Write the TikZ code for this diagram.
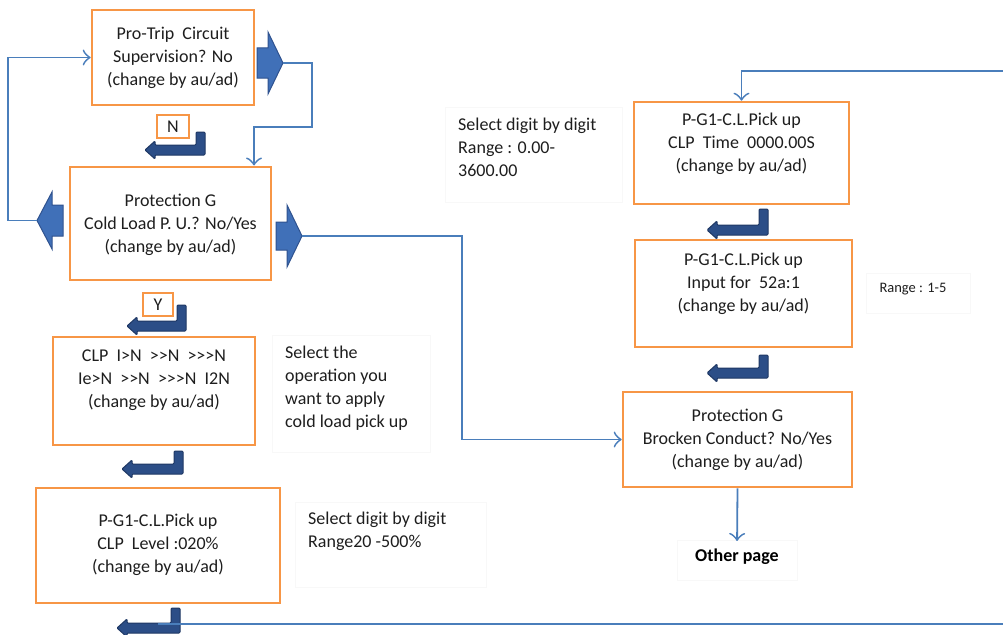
\documentclass[tikz,border=0pt]{standalone}
\usepackage{fontspec}
\setmainfont{Carlito}
\usetikzlibrary{arrows.meta}
\definecolor{boxorange}{RGB}{247,150,70}
\definecolor{linkblue}{RGB}{74,126,187}
\definecolor{blockfill}{RGB}{64,112,184}
\definecolor{blockedge}{RGB}{47,82,143}
\definecolor{bentfill}{RGB}{44,78,135}
\definecolor{bentedge}{RGB}{31,56,100}
\definecolor{txtcol}{RGB}{30,30,30}
\definecolor{faintcol}{RGB}{248,248,248}
\newcommand\GG{>\kern0pt>}
\newcommand\GGG{>\kern0pt>\kern0pt>}
\tikzset{
 box/.style={draw=boxorange, line width=2.6pt, fill=white, inner sep=0pt},
 boxtext/.style={text=txtcol, font=\fontsize{18}{23}\selectfont, align=center, inner sep=0pt},
 sidetext/.style={text=txtcol, font=\fontsize{18}{23}\selectfont, align=left, inner sep=0pt, anchor=west},
 faintbox/.style={draw=faintcol, line width=0.7pt},
 link/.style={draw=linkblue, line width=1.8pt},
 linkarrow/.style={link, -{Classical TikZ Rightarrow[length=8pt,width=16pt]}},
 blockarrow/.style={fill=blockfill, draw=blockedge, line width=1pt, line join=miter},
 bentarrow/.style={fill=bentfill, draw=bentedge, line width=1pt, rounded corners=1pt},
}
\newcommand\BentArrow[4]{% stem right x, stem top y, shaft bottom y, tip x
  \filldraw[bentarrow] (#1,#2) -- (#1,#3) -- ({#4+10},#3) -- ({#4+10},{#3+4}) -- (#4,{#3-5}) -- ({#4+10},{#3-14}) -- ({#4+10},{#3-10}) -- ({#1-9},{#3-10}) -- ({#1-9},#2) -- cycle;}
\begin{document}
\begin{tikzpicture}[x=1pt,y=-1pt]
\useasboundingbox (0,0) rectangle (1003,634);
\fill[white] (0,0) rectangle (1003,634);

% faint frames of side notes
\draw[faintbox] (272,335) rectangle (430,452);
\draw[faintbox] (295,502) rectangle (486,587);
\draw[faintbox] (445,107) rectangle (622,202);
\draw[faintbox] (866,273) rectangle (970,313);
\draw[faintbox] (677,540) rectangle (797,580);

% boxes
\node[box, minimum width=162pt, minimum height=95pt] (b1) at (173,57.5) {};
\node[box, minimum width=201pt, minimum height=113pt] (b2) at (170.5,223.5) {};
\node[box, minimum width=202pt, minimum height=108pt] (b3) at (154,391) {};
\node[box, minimum width=244pt, minimum height=115pt] (b4) at (158,545.5) {};
\node[box, minimum width=215pt, minimum height=102pt] (b5) at (741.5,153) {};
\node[box, minimum width=217pt, minimum height=107pt] (b6) at (743.5,293.5) {};
\node[box, minimum width=229pt, minimum height=95pt] (b7) at (737.5,439.5) {};

\node[box, boxtext, minimum width=32pt, minimum height=23pt] (nbox) at (173,126.5) {N};
\node[box, boxtext, minimum width=30pt, minimum height=23pt] (ybox) at (158,304.5) {Y};

% box texts
\node[boxtext] (t1) at (173,58) {Pro-Trip~~Circuit\\Supervision? No\\(change by au/ad)};
\node[boxtext] (t2) at (170.5,225) {Protection G\\Cold Load P. U.? No/Yes\\(change by au/ad)};
\node[boxtext] (t3) at (154,380.5) {CLP~~I>N~~\GG N~~\GGG N\\Ie>N~~\GG N~~\GGG N~~I2N\hspace*{24pt}\\(change by au/ad)};
\node[boxtext] (t4) at (158,545) {P-G1-C.L.Pick up\\CLP~~Level :020\%\\(change by au/ad)};
\node[boxtext] (t5) at (741.5,143.5) {P-G1-C.L.Pick up\\CLP~~Time~~0000.00S\\(change by au/ad)};
\node[boxtext] (t6) at (743.5,284) {P-G1-C.L.Pick up\\Input for~~52a:1\\(change by au/ad)};
\node[boxtext] (t7) at (737.5,440) {Protection G\\Brocken Conduct? No/Yes\hspace*{14pt}\\(change by au/ad)};

% side notes
\node[sidetext] (s1) at (285,388) {Select the\\operation you\\want to apply\\cold load pick up};
\node[sidetext] (s2) at (308,531.5) {Select digit by digit\\Range20 -500\%};
\node[sidetext] (s3) at (458,147.5) {Select digit by digit\\Range : 0.00-\\3600.00};
\node[boxtext, font=\fontsize{14.5}{17}\selectfont] (s4) at (913,289) {Range : 1-5};
\node[boxtext, font=\fontsize{18}{23}\selectfont\bfseries, text=black] (op) at (737,557) {Other page};

% block arrows
\filldraw[blockarrow] (257,48) -- (268,48) -- (268,32) -- (283,63) -- (268,94) -- (268,78) -- (257,78) -- cycle;
\filldraw[blockarrow] (63,205) -- (52,205) -- (52,192) -- (37,220.5) -- (52,249) -- (52,236) -- (63,236) -- cycle;
\filldraw[blockarrow] (276,222) -- (287,222) -- (287,205) -- (302,236) -- (287,267) -- (287,250) -- (276,250) -- cycle;
\coordinate (a1tip) at (283,63);
\coordinate (a2tip) at (37,220.5);
\coordinate (a3tip) at (302,236);

% bent arrows
\BentArrow{205}{132}{155}{145}
\BentArrow{186}{305}{331}{127}
\BentArrow{183}{451}{474}{122}
\BentArrow{180}{608}{633}{117}
\BentArrow{768}{209}{235}{707}
\BentArrow{768}{355}{378}{707}
\coordinate (loopstart) at (158,624);

% connectors
\draw[linkarrow] (a1tip) -- (312,63) -- (312,127) -- (254,127) -- (254,165.5);
\draw[linkarrow] (a2tip) -- (8,220.5) -- (8,57.5) -- (b1.west);
\draw[linkarrow] (a3tip) -- (462,236) -- (462,439.5) -- (b7.west);
\draw[linkarrow] (loopstart) -- (1012,624) -- (1012,71) -| (b5.north);
\draw[linkarrow, shorten >=8pt] (b7.south) -- (op.north);
\end{tikzpicture}
\end{document}
